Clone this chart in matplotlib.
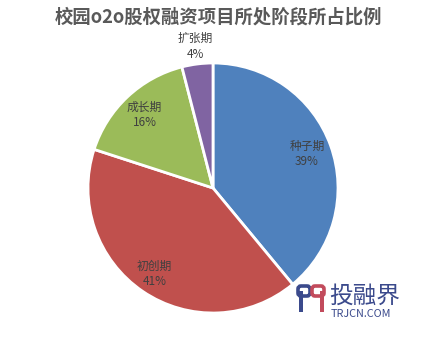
import matplotlib
matplotlib.use("Agg")
import matplotlib.pyplot as plt
from matplotlib.patches import Rectangle, FancyBboxPatch
import numpy as np

plt.rcParams["font.family"] = ["Noto Sans CJK SC", "DejaVu Sans"]

# data
stages = ["种子期", "初创期", "成长期", "扩张期"]
shares = [39, 41, 16, 4]
colors = ["#4F81BD", "#C0504D", "#9BBB59", "#8064A2"]
label_r = [0.80, 0.83, 0.80, 1.14]

title = "校园o2o股权融资项目所处阶段所占比例"

W, H = 437, 343
fig = plt.figure(figsize=(W / 100, H / 100), dpi=100)
fig.patch.set_facecolor("white")

# pie axes: circle centred around (213, 188) px, radius 125 px
ax = fig.add_axes([88 / W, (H - 313) / H, 250 / W, 250 / H])
wedges, _ = ax.pie(shares, colors=colors, startangle=90, counterclock=False,
                   radius=1.0, wedgeprops=dict(edgecolor="white", linewidth=2))
ax.set_xlim(-1, 1)
ax.set_ylim(-1, 1)
ax.set_aspect("auto")
ax.axis("off")

for w, name, val, r in zip(wedges, stages, shares, label_r):
    mid = np.deg2rad((w.theta1 + w.theta2) / 2)
    ax.text(r * np.cos(mid), r * np.sin(mid), f"{name}\n{val}%",
            ha="center", va="center", fontsize=8.5, color="#404040",
            linespacing=1.25)

# overlay in pixel coords for title and watermark
ov = fig.add_axes([0, 0, 1, 1], facecolor="none")
ov.set_xlim(0, W)
ov.set_ylim(H, 0)
ov.axis("off")

ov.text(218, 17, title, ha="center", va="center", fontsize=13.2,
        fontweight="bold", color="#595959")

# watermark logo (rough)
navy = "#3b4a8c"
rose = "#c24b5c"
ov.add_patch(FancyBboxPatch((298, 286), 12, 10, boxstyle="round,pad=0,rounding_size=3",
                            fc="none", ec=navy, lw=2.6))
ov.add_patch(Rectangle((298.5, 291), 4, 21, fc=navy, ec="none"))
ov.add_patch(FancyBboxPatch((312, 286), 12, 10, boxstyle="round,pad=0,rounding_size=3",
                            fc="none", ec=rose, lw=2.6))
ov.add_patch(Rectangle((319.5, 291), 4, 21, fc=rose, ec="none"))

ov.text(329, 296, "投融界", ha="left", va="center", fontsize=17,
        color=navy)
ov.text(331, 314, "TRJCN.COM", ha="left", va="center", fontsize=7.8,
        color=navy)

fig.savefig("out.png", dpi=100)
